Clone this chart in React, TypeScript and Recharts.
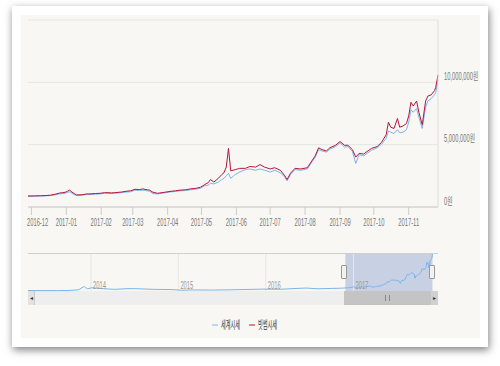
import { ComposedChart, LineChart, Line, XAxis, YAxis, CartesianGrid, ReferenceArea, ReferenceLine, Legend } from 'recharts'

// main chart data: 2016-11 ~ 2017-11, KRW
const DATES = [
  '2016-11-28', '2016-12-04', '2016-12-09', '2016-12-14', '2016-12-18', '2016-12-22', '2016-12-26', '2016-12-29',
  '2016-12-31', '2017-01-02', '2017-01-04', '2017-01-06', '2017-01-08', '2017-01-10', '2017-01-15', '2017-01-19',
  '2017-01-22', '2017-01-27', '2017-01-31', '2017-02-04', '2017-02-07', '2017-02-10', '2017-02-13', '2017-02-19',
  '2017-02-23', '2017-02-27', '2017-03-03', '2017-03-07', '2017-03-10', '2017-03-14', '2017-03-16', '2017-03-19',
  '2017-03-23', '2017-03-27', '2017-04-03', '2017-04-08', '2017-04-12', '2017-04-17', '2017-04-21', '2017-04-26',
  '2017-04-30', '2017-05-04', '2017-05-07', '2017-05-09', '2017-05-12', '2017-05-16', '2017-05-19', '2017-05-21',
  '2017-05-23', '2017-05-25', '2017-05-27', '2017-05-31', '2017-06-04', '2017-06-09', '2017-06-13', '2017-06-18',
  '2017-06-22', '2017-06-26', '2017-07-01', '2017-07-05', '2017-07-10', '2017-07-14', '2017-07-16', '2017-07-19',
  '2017-07-23', '2017-07-28', '2017-08-03', '2017-08-07', '2017-08-10', '2017-08-13', '2017-08-16', '2017-08-20',
  '2017-08-23', '2017-08-28', '2017-09-01', '2017-09-05', '2017-09-08', '2017-09-12', '2017-09-15', '2017-09-18',
  '2017-09-22', '2017-09-25', '2017-09-29', '2017-10-04', '2017-10-08', '2017-10-12', '2017-10-14', '2017-10-16',
  '2017-10-19', '2017-10-22', '2017-10-24', '2017-10-27', '2017-10-30', '2017-11-01', '2017-11-03', '2017-11-05',
  '2017-11-08', '2017-11-10', '2017-11-13', '2017-11-16', '2017-11-18', '2017-11-21', '2017-11-24', '2017-11-25',
  '2017-11-27',
]

const WORLD_PRICE = [
  860000, 870000, 880000, 900000, 920000, 980000, 1050000, 1080000,
  1100000, 1160000, 1220000, 1100000, 1000000, 920000, 950000, 1000000,
  1000000, 1030000, 1050000, 1100000, 1100000, 1080000, 1100000, 1150000,
  1200000, 1220000, 1350000, 1330000, 1350000, 1300000, 1250000, 1080000,
  1050000, 1100000, 1200000, 1250000, 1300000, 1320000, 1380000, 1430000,
  1500000, 1700000, 1750000, 1900000, 1850000, 2000000, 2200000, 2300000,
  2500000, 2700000, 2300000, 2600000, 2800000, 3000000, 3050000, 2950000,
  3050000, 2950000, 2800000, 2950000, 2750000, 2400000, 2100000, 2600000,
  3000000, 2950000, 3050000, 3600000, 4000000, 4600000, 4500000, 4400000,
  4650000, 4850000, 5150000, 4800000, 4850000, 4450000, 3500000, 4200000,
  4100000, 4300000, 4550000, 4750000, 5050000, 5500000, 6100000, 6000000,
  5900000, 6200000, 5950000, 6000000, 6200000, 6800000, 7800000, 7600000,
  7900000, 7200000, 6300000, 8000000, 8500000, 8700000, 9000000, 9200000,
  10200000,
]

const BITHUMB_PRICE = [
  880000, 890000, 900000, 920000, 950000, 1020000, 1120000, 1150000,
  1180000, 1260000, 1350000, 1200000, 1080000, 970000, 980000, 1050000,
  1050000, 1080000, 1100000, 1150000, 1150000, 1130000, 1150000, 1200000,
  1260000, 1300000, 1420000, 1400000, 1450000, 1380000, 1350000, 1180000,
  1100000, 1150000, 1250000, 1300000, 1350000, 1380000, 1450000, 1500000,
  1580000, 1800000, 1950000, 2200000, 2000000, 2300000, 2600000, 2750000,
  3200000, 4700000, 2900000, 3000000, 3100000, 3100000, 3250000, 3200000,
  3400000, 3200000, 3050000, 3150000, 2950000, 2500000, 2200000, 2700000,
  3100000, 3050000, 3150000, 3700000, 4100000, 4750000, 4600000, 4500000,
  4750000, 4950000, 5250000, 4950000, 4950000, 4600000, 4000000, 4300000,
  4250000, 4450000, 4700000, 4850000, 5200000, 5800000, 6800000, 6400000,
  6300000, 7100000, 6400000, 6500000, 6700000, 7300000, 8400000, 8100000,
  8500000, 7600000, 6600000, 8500000, 8900000, 9000000, 9350000, 9600000,
  10600000,
]

const MONTH_TICKS = [
  '2016-12-01', '2017-01-01', '2017-02-01', '2017-03-01', '2017-04-01', '2017-05-01',
  '2017-06-01', '2017-07-01', '2017-08-01', '2017-09-01', '2017-10-01', '2017-11-01',
]
const PRICE_TICKS = [0, 5000000, 10000000, 15000000]

// navigator: older world price history before the main range
const HISTORY_DATES = [
  '2013-04-13', '2013-06-15', '2013-08-15', '2013-10-01', '2013-11-10', '2013-11-20', '2013-12-04', '2013-12-10',
  '2013-12-18', '2014-01-05', '2014-02-10', '2014-03-01', '2014-04-10', '2014-06-01', '2014-07-01', '2014-09-20',
  '2014-12-01', '2015-01-14', '2015-03-01', '2015-06-01', '2015-08-01', '2015-11-04', '2015-12-15', '2016-03-01',
  '2016-06-17', '2016-08-02', '2016-10-01', '2016-11-20',
]
const HISTORY_WORLD = [
  130000, 110000, 110000, 140000, 330000, 720000, 1250000, 900000,
  620000, 900000, 700000, 600000, 450000, 650000, 660000, 450000,
  400000, 210000, 290000, 260000, 320000, 450000, 520000, 480000,
  820000, 620000, 700000, 800000,
]
const YEAR_TICKS = ['2014-01-01', '2015-01-01', '2016-01-01', '2017-01-01']
const NAV_RANGE = ['2013-04-13', '2017-12-20']

const SERIES_NAMES = ['세계시세', '빗썸시세']
const WORLD_COLOR = '#7cb5ec'
const BITHUMB_COLOR = '#b3173c'
const FONT = "'Liberation Sans', 'Noto Sans CJK KR', sans-serif"

const ts = (s: string) => Date.parse(s + 'T00:00:00Z')

const mainData = DATES.map((d, i) => ({ t: ts(d), world: WORLD_PRICE[i], bithumb: BITHUMB_PRICE[i] }))
const navData = [
  ...HISTORY_DATES.map((d, i) => ({ t: ts(d), world: HISTORY_WORLD[i] })),
  ...DATES.map((d, i) => ({ t: ts(d), world: WORLD_PRICE[i] })),
]

function Squeezed({ x, y, anchor = 'start', size = 10, fill = '#777', squeeze = 0.58, children }: any) {
  return (
    <text
      transform={`translate(${x},${y}) scale(${squeeze},1)`}
      textAnchor={anchor}
      fontSize={size}
      fill={fill}
      fontFamily={FONT}
    >
      {children}
    </text>
  )
}

function MonthTick({ x, y, payload }: any) {
  const label = new Date(payload.value).toISOString().slice(0, 7)
  // first label gets pushed inside like highcharts does
  if (x - 10.5 < 27) return <Squeezed x={27} y={y + 8.5}>{label}</Squeezed>
  return <Squeezed x={x} y={y + 8.5} anchor="middle">{label}</Squeezed>
}

function PriceTick({ x, y, payload }: any) {
  if (payload.value >= 15000000) return null
  return <Squeezed x={x} y={y - 2.5}>{payload.value.toLocaleString('en-US') + '원'}</Squeezed>
}

function YearTick({ x, payload }: any) {
  const label = new Date(payload.value).getUTCFullYear()
  return <Squeezed x={x + 2} y={48.5} fill="#999">{label}</Squeezed>
}

function LegendContent({ payload }: any) {
  const items = [...(payload ?? [])].sort(
    (a: any, b: any) => SERIES_NAMES.indexOf(a.value) - SERIES_NAMES.indexOf(b.value),
  )
  const itemW = 37
  const start = 221 - (items.length * itemW) / 2
  return (
    <svg width={410} height={40} style={{ display: 'block' }}>
      {items.map((it: any, i: number) => {
        const x0 = start + i * itemW
        return (
          <g key={it.value}>
            <line x1={x0} x2={x0 + 6} y1={20} y2={20} stroke={it.color} strokeWidth={1} />
            <Squeezed x={x0 + 9} y={24} size={11} fill="#333" squeeze={0.47}>{it.value}</Squeezed>
          </g>
        )
      })}
    </svg>
  )
}

const abs = (left: number, top: number, width: number, height: number, extra: any = {}) => ({
  position: 'absolute' as const, left, top, width, height, ...extra,
})

export default function App() {
  return (
    <div style={abs(0, 0, 500, 366, { background: '#fff', overflow: 'hidden' })}>
      <div style={abs(12, 6, 476, 341, { background: '#fff', boxShadow: '1px 3px 8px rgba(0,0,0,0.5)' })} />
      <div style={abs(21, 15, 459, 323, { background: '#f8f7f4' })} />

      <div style={abs(0, 0, 500, 240)}>
        <ComposedChart width={500} height={240} data={mainData} margin={{ top: 20, right: 0, bottom: 0, left: 28 }}>
          <CartesianGrid vertical={false} stroke="#e4e4e4" />
          <XAxis
            dataKey="t"
            type="number"
            domain={[ts(DATES[0]), ts(DATES[DATES.length - 1])]}
            ticks={MONTH_TICKS.map(ts)}
            height={33}
            tickSize={8}
            tickLine={{ stroke: '#ccc' }}
            axisLine={{ stroke: '#ccc' }}
            tick={<MonthTick />}
            interval={0}
          />
          <YAxis
            orientation="right"
            domain={[0, 15000000]}
            ticks={PRICE_TICKS}
            width={62}
            tickSize={0}
            tickMargin={6}
            tickLine={false}
            axisLine={{ stroke: '#ddd' }}
            tick={<PriceTick />}
            interval={0}
          />
          <Line type="linear" dataKey="world" name={SERIES_NAMES[0]} stroke={WORLD_COLOR} strokeWidth={1} dot={false} isAnimationActive={false} />
          <Line type="linear" dataKey="bithumb" name={SERIES_NAMES[1]} stroke={BITHUMB_COLOR} strokeWidth={1} dot={false} isAnimationActive={false} />
        </ComposedChart>
      </div>

      {/* scrollbar track, buttons */}
      <div style={abs(28, 291, 410, 14, { background: '#eeeeee' })} />
      <div style={abs(28, 291, 7, 14, { background: '#e2e2e2', borderRight: '1px solid #ccc', boxSizing: 'border-box', fontSize: 6, color: '#333', textAlign: 'center', lineHeight: '14px' })}>◂</div>
      <div style={abs(344, 291, 88, 14, { background: '#c4c4c4' })} />
      <div style={abs(385, 295, 5, 6, { borderLeft: '1px solid #888', borderRight: '1px solid #888', boxSizing: 'border-box' })} />
      <div style={abs(431, 291, 7, 14, { background: '#d0d0d0', boxSizing: 'border-box', fontSize: 6, color: '#333', textAlign: 'center', lineHeight: '14px' })}>▸</div>

      <div style={abs(0, 240, 500, 105)}>
        <LineChart width={500} height={105} data={navData} margin={{ top: 14, right: 62, bottom: 0, left: 28 }}>
          <XAxis
            dataKey="t"
            type="number"
            domain={NAV_RANGE.map(ts)}
            ticks={YEAR_TICKS.map(ts)}
            height={14}
            axisLine={false}
            tickLine={false}
            tick={<YearTick />}
            interval={0}
          />
          <YAxis hide domain={[0, 'dataMax']} />
          {YEAR_TICKS.map(d => (
            <ReferenceLine key={d} x={ts(d)} stroke="#e6e6e6" />
          ))}
          <ReferenceArea
            x1={ts(DATES[0])}
            x2={ts(DATES[DATES.length - 1])}
            fill="#6685c2"
            fillOpacity={0.33}
            stroke="none"
          />
          <Line type="linear" dataKey="world" name={SERIES_NAMES[0]} stroke={WORLD_COLOR} strokeWidth={1} dot={false} isAnimationActive={false} />
          <Line dataKey="none" name={SERIES_NAMES[1]} stroke={BITHUMB_COLOR} dot={false} isAnimationActive={false} />
          <Legend verticalAlign="bottom" content={<LegendContent />} />
        </LineChart>
      </div>

      <div style={abs(28, 253, 410, 1, { background: '#cfcfcf' })} />
      <div style={abs(341, 265, 6, 14, { background: '#f2f2f2', border: '1px solid #999', boxSizing: 'border-box', borderRadius: 1 })} />
      <div style={abs(429, 265, 6, 14, { background: '#f2f2f2', border: '1px solid #999', boxSizing: 'border-box', borderRadius: 1 })} />
    </div>
  )
}
